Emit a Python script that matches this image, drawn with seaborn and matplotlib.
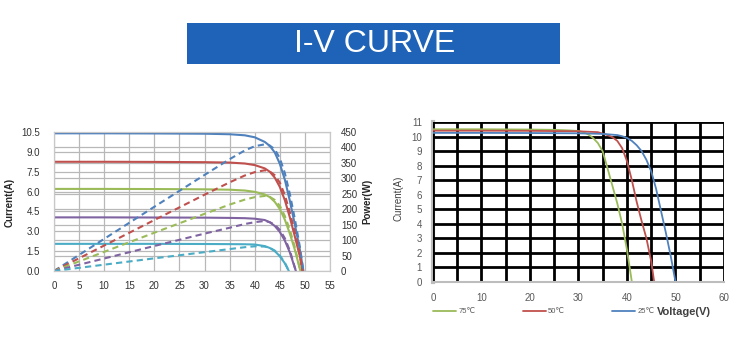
import matplotlib.pyplot as plt
import matplotlib.patches as patches
import numpy as np
import pandas as pd
import seaborn as sns

sns.set_style("white")
plt.rcParams['font.family'] = ['Liberation Sans', 'DejaVu Sans']

# ---- left chart: I-V and P-V curves at five irradiance levels ----
volts_a = [0, 10, 20, 30, 35, 38, 40, 42, 43, 44, 45, 46, 47, 48, 49, 49.7]
amps_a = [10.4, 10.4, 10.39, 10.37, 10.33, 10.25, 10.1, 9.75, 9.45, 8.95, 8.1, 6.9, 5.3, 3.5, 1.6, 0]
watts_a = [0, 104, 208, 311, 362, 390, 404, 410, 406, 394, 365, 317, 249, 168, 78, 0]

volts_b = [0, 10, 20, 30, 35, 38, 40, 42, 43, 44, 45, 46, 47, 48, 49, 49.5]
amps_b = [8.25, 8.25, 8.24, 8.22, 8.19, 8.12, 8.0, 7.75, 7.5, 7.05, 6.35, 5.35, 4.05, 2.6, 1.1, 0]
watts_b = [0, 82.5, 165, 247, 287, 309, 320, 326, 322, 310, 286, 246, 190, 125, 54, 0]

volts_c = [0, 10, 20, 30, 35, 38, 40, 42, 43, 44, 45, 46, 47, 48, 49.1]
amps_c = [6.2, 6.2, 6.19, 6.17, 6.14, 6.08, 5.98, 5.78, 5.58, 5.22, 4.68, 3.88, 2.82, 1.6, 0]
watts_c = [0, 62, 124, 185, 215, 231, 239, 243, 240, 230, 211, 178, 133, 77, 0]

volts_d = [0, 10, 20, 30, 35, 38, 40, 42, 43, 44, 45, 46, 47, 48.2]
amps_d = [4.05, 4.05, 4.04, 4.03, 4.01, 3.99, 3.95, 3.85, 3.68, 3.4, 2.95, 2.3, 1.4, 0]
watts_d = [0, 40.5, 81, 121, 140, 152, 158, 162, 158, 150, 133, 106, 66, 0]

volts_e = [0, 10, 20, 30, 35, 38, 40, 42, 43, 44, 45, 46, 46.8]
amps_e = [2.05, 2.05, 2.05, 2.04, 2.03, 2.02, 2.0, 1.88, 1.74, 1.5, 1.12, 0.58, 0]
watts_e = [0, 20.5, 41, 61, 71, 77, 80, 79, 75, 66, 50, 27, 0]

left_series = [
    (volts_a, amps_a, watts_a, "#4F81BD"),
    (volts_b, amps_b, watts_b, "#C0504D"),
    (volts_c, amps_c, watts_c, "#9BBB59"),
    (volts_d, amps_d, watts_d, "#8064A2"),
    (volts_e, amps_e, watts_e, "#4BACC6"),
]

# ---- right chart: I-V curves at three cell temperatures ----
volts_75 = [0, 10, 20, 25, 28, 30, 31, 32, 33, 34, 35, 36, 37, 38, 39, 40, 41]
amps_75 = [10.5, 10.5, 10.48, 10.46, 10.42, 10.38, 10.3, 10.15, 9.9, 9.55, 8.97, 7.8, 6.6, 5.4, 4.0, 2.2, 0]

volts_50 = [0, 10, 20, 30, 34, 36, 37, 38, 39, 40, 41, 42, 43, 44, 45, 45.6]
amps_50 = [10.4, 10.4, 10.39, 10.36, 10.3, 10.1, 9.95, 9.7, 9.2, 8.3, 7.0, 5.5, 4.2, 3.0, 1.4, 0]

volts_25 = [0, 10, 20, 30, 35, 38, 39, 40, 41, 42, 43, 44, 45, 46, 47, 48, 49, 50]
amps_25 = [10.25, 10.25, 10.24, 10.22, 10.18, 10.1, 10.02, 9.9, 9.7, 9.4, 9.0, 8.4, 7.6, 6.4, 4.9, 3.4, 1.8, 0]

temp_labels = ["75℃", "50℃", "25℃"]
temp_colors = ["#9BBB59", "#C0504D", "#4F81BD"]

fig = plt.figure(figsize=(7.5, 3.53), dpi=100)

# title banner
fig.patches.append(patches.Rectangle((0.249, 0.819), 0.497, 0.116, transform=fig.transFigure,
                                     facecolor="#1F63B8", edgecolor="none"))
fig.text(0.499, 0.874, "I-V CURVE", color="white", fontsize=23, ha="center", va="center")

# left chart
ax = fig.add_axes([0.072, 0.2323, 0.368, 0.3938])
ax2 = ax.twinx()
for v, i, p, c in left_series:
    sns.lineplot(x=v, y=i, ax=ax, color=c, lw=1.5, estimator=None)
    sns.lineplot(x=v, y=p, ax=ax2, color=c, lw=1.5, estimator=None, linestyle=(0, (3, 2)))

ax.set_xlim(0, 55)
ax.set_ylim(0, 10.5)
ax2.set_ylim(0, 450)
ax.set_xticks(np.arange(0, 56, 5))
ax.set_yticks(np.arange(0, 10.6, 1.5))
ax.set_yticklabels([f"{t:.1f}" for t in np.arange(0, 10.6, 1.5)])
ax.set_yticks(np.arange(0, 451, 50) * 10.5 / 450, minor=True)
ax2.set_yticks(np.arange(0, 451, 50))
ax.grid(True, which="both", color="#B8B8B8", lw=0.9)
ax.set_axisbelow(True)
for a in (ax, ax2):
    for s in a.spines.values():
        s.set_color("#C8C8C8")
ax.tick_params(axis="both", which="both", length=0, labelsize=7, colors="#333333")
ax.tick_params(axis="y", pad=10)
ax.tick_params(axis="x", pad=7)
ax2.tick_params(axis="y", length=0, labelsize=7, colors="#333333", pad=8)
ax.set_ylabel("Current(A)", fontsize=7, fontweight="bold")
ax.yaxis.set_label_coords(-0.141, 0.49)
ax2.set_ylabel("Power(W)", fontsize=7, fontweight="bold")
ax2.yaxis.set_label_coords(1.116, 0.5)

# right chart
bx = fig.add_axes([0.5773, 0.202, 0.388, 0.4524])
for v, i, lab, c in zip([volts_75, volts_50, volts_25], [amps_75, amps_50, amps_25], temp_labels, temp_colors):
    sns.lineplot(x=v, y=i, ax=bx, color=c, lw=1.3, estimator=None, label=lab)

bx.set_xlim(0, 60)
bx.set_ylim(0, 11)
bx.set_xticks(np.arange(0, 61, 10))
bx.set_xticks(np.arange(0, 61, 5), minor=True)
bx.set_yticks(np.arange(0, 12, 1))
bx.grid(True, which="both", color="black", lw=2)
bx.set_axisbelow(True)
bx.spines["left"].set_color("#BDBDBD")
bx.spines["left"].set_linewidth(3)
bx.spines["left"].set_zorder(0.5)
bx.spines["bottom"].set_color("#BDBDBD")
bx.spines["bottom"].set_linewidth(1.5)
bx.spines["top"].set_visible(False)
bx.spines["right"].set_visible(False)
bx.tick_params(axis="both", which="both", length=0, labelsize=7, colors="#595959")
bx.tick_params(axis="y", pad=8)
bx.tick_params(axis="x", pad=8)
bx.set_ylabel("Current(A)", fontsize=7, color="#404040")
bx.yaxis.set_label_coords(-0.103, 0.524)
bx.legend(loc="center left", bbox_to_anchor=(0.0, -0.188), ncol=3, frameon=False,
          fontsize=5.5, handlelength=3.0, handletextpad=0.3, columnspacing=6.2,
          borderpad=0, borderaxespad=0, labelcolor="#595959")
fig.text(0.876, 0.116, "Voltage(V)", fontsize=8, fontweight="bold", color="#404040", va="center")

fig.savefig("out.png", dpi=100)
